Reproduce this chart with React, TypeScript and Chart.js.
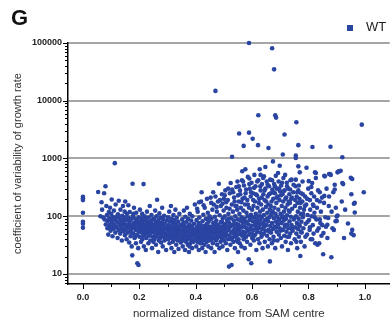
import React, { useEffect, useRef } from 'react';
import { Chart, registerables } from 'chart.js';

Chart.register(...registerables);

const panelLetter = 'G';
const seriesLabel = 'WT';
const xTitle = 'normalized distance from SAM centre';
const yTitle = 'coefficient of variability of growth rate';

const xMajorTicks = [0, 0.2, 0.4, 0.6, 0.8, 1.0];
const xMinorTicks = [0.1, 0.3, 0.5, 0.7, 0.9];
const yMajorTicks = [10, 100, 1000, 10000, 100000];
const yMinorTicks = [7, 8, 9, 20, 30, 40, 50, 60, 70, 80, 90, 200, 300, 400, 500, 600, 700, 800, 900,
  2000, 3000, 4000, 5000, 6000, 7000, 8000, 9000, 20000, 30000, 40000, 50000, 60000, 70000, 80000, 90000];

// [normalized distance, coefficient of variability]
const centrePoints: number[][] = [[0,217],[0,205],[0,190],[0,115],[0,80],[0,74],[0,63]];

const band05: number[][] = [[0.054,263],[0.062,100],[0.066,175],[0.068,130],[0.072,95],[0.075,250],[0.077,88],[0.08,330],[0.081,72],[0.083,150],[0.085,105],[0.087,62],[0.088,82],[0.09,48],[0.092,118],[0.093,92],[0.095,70],[0.096,140],[0.098,56],[0.099,86],[0.1,110],[0.1,65]];

const band10: number[][] = [[0.102,195],[0.104,78],[0.105,45],[0.106,98],[0.108,60],[0.11,125],[0.111,72],[0.113,830],[0.113,88],[0.115,52],[0.116,160],[0.118,95],[0.12,66],[0.121,80],[0.123,42],[0.124,108],[0.126,58],[0.127,185],[0.129,75],[0.13,92],[0.132,50],[0.133,130],[0.135,68],[0.136,84],[0.138,38],[0.139,102],[0.141,61],[0.142,150],[0.144,77],[0.145,55],[0.147,90],[0.148,120],[0.149,47],[0.15,70],[0.15,180]];

const band15: number[][] = [[0.152,85],[0.153,60],[0.155,40],[0.156,110],[0.157,72],[0.159,52],[0.16,95],[0.161,155],[0.162,64],[0.164,35],[0.165,80],[0.166,118],[0.168,56],[0.169,45],[0.17,88],[0.171,70],[0.173,30],[0.176,365],[0.175,21],[0.176,62],[0.177,100],[0.178,50],[0.18,76],[0.181,140],[0.183,42],[0.184,66],[0.185,90],[0.187,58],[0.188,34],[0.189,115],[0.19,74],[0.192,48],[0.193,15.3],[0.194,82],[0.195,62],[0.196,28],[0.197,14.3],[0.198,96],[0.199,54],[0.2,70]];

const band20: number[][] = [[0.201,44],[0.202,130],[0.203,80],[0.204,60],[0.206,36],[0.207,92],[0.208,68],[0.209,52],[0.21,110],[0.211,40],[0.212,75],[0.213,58],[0.215,360],[0.215,86],[0.216,30],[0.217,64],[0.218,48],[0.219,100],[0.22,72],[0.222,55],[0.223,26],[0.224,84],[0.225,42],[0.226,66],[0.227,120],[0.228,50],[0.229,78],[0.23,60],[0.232,34],[0.233,95],[0.234,70],[0.235,46],[0.236,56],[0.237,150],[0.238,82],[0.239,38],[0.24,64],[0.242,52],[0.243,105],[0.244,74],[0.245,28],[0.246,58],[0.247,88],[0.248,44],[0.249,68]];

const band25: number[][] = [[0.251,54],[0.252,90],[0.253,40],[0.254,70],[0.255,62],[0.256,125],[0.257,48],[0.258,80],[0.259,32],[0.26,58],[0.261,100],[0.262,44],[0.263,193],[0.264,66],[0.265,52],[0.266,75],[0.267,24],[0.268,86],[0.269,38],[0.27,60],[0.271,112],[0.272,50],[0.273,72],[0.274,42],[0.275,56],[0.276,94],[0.277,35],[0.278,64],[0.279,46],[0.28,78],[0.281,140],[0.282,54],[0.283,30],[0.284,68],[0.285,88],[0.286,44],[0.287,58],[0.288,102],[0.289,38],[0.29,74],[0.292,50],[0.294,62],[0.295,26],[0.297,84],[0.299,46]];

const band30: number[][] = [[0.301,56],[0.302,96],[0.303,40],[0.304,70],[0.305,48],[0.306,120],[0.307,34],[0.308,60],[0.309,82],[0.31,44],[0.311,52],[0.312,150],[0.313,66],[0.314,28],[0.315,90],[0.316,42],[0.317,58],[0.318,76],[0.319,36],[0.32,64],[0.321,105],[0.322,48],[0.323,54],[0.324,24],[0.325,86],[0.326,40],[0.327,62],[0.328,130],[0.329,46],[0.33,72],[0.331,32],[0.332,56],[0.333,94],[0.334,44],[0.335,66],[0.336,38],[0.337,50],[0.338,80],[0.339,27],[0.34,60],[0.342,110],[0.344,46],[0.346,70],[0.347,35],[0.349,54]];

const band35: number[][] = [[0.351,42],[0.352,88],[0.353,62],[0.354,30],[0.355,50],[0.356,76],[0.357,38],[0.358,125],[0.359,56],[0.36,44],[0.361,68],[0.362,26],[0.363,98],[0.364,48],[0.365,60],[0.366,36],[0.367,80],[0.368,52],[0.369,140],[0.37,40],[0.371,64],[0.372,32],[0.373,90],[0.374,46],[0.375,58],[0.376,24],[0.377,72],[0.378,42],[0.379,110],[0.38,54],[0.381,34],[0.382,66],[0.383,48],[0.384,84],[0.385,38],[0.386,56],[0.387,28],[0.388,100],[0.389,44],[0.39,62],[0.392,36],[0.394,74],[0.395,50],[0.397,160],[0.399,40]];

const band40: number[][] = [[0.401,58],[0.402,30],[0.403,86],[0.404,46],[0.405,66],[0.406,36],[0.407,120],[0.408,52],[0.409,42],[0.41,76],[0.411,26],[0.412,60],[0.413,95],[0.414,40],[0.415,54],[0.416,34],[0.417,70],[0.418,48],[0.419,180],[0.42,44],[0.421,260],[0.422,62],[0.423,28],[0.424,82],[0.425,50],[0.426,38],[0.427,106],[0.428,56],[0.429,42],[0.43,68],[0.431,32],[0.432,140],[0.433,48],[0.434,60],[0.435,24],[0.436,90],[0.437,44],[0.438,54],[0.439,36],[0.44,74],[0.441,64],[0.442,40],[0.443,115],[0.444,50],[0.445,30],[0.446,80],[0.447,46],[0.448,58],[0.449,100],[0.45,38]];

const band45: number[][] = [[0.451,66],[0.452,44],[0.453,210],[0.454,54],[0.455,28],[0.456,90],[0.457,40],[0.458,62],[0.459,130],[0.46,48],[0.461,34],[0.462,76],[0.463,56],[0.464,160],[0.465,42],[0.466,70],[0.467,24],[0.468,98],[0.469,52],[0.47,220],[0.47,14800],[0.471,60],[0.472,38],[0.473,84],[0.474,46],[0.475,120],[0.476,32],[0.477,66],[0.478,54],[0.479,180],[0.48,44],[0.481,72],[0.482,365],[0.483,58],[0.484,28],[0.485,104],[0.486,48],[0.487,64],[0.488,36],[0.489,150],[0.49,80],[0.491,52],[0.492,42],[0.493,240],[0.494,60],[0.495,30],[0.496,92],[0.497,46],[0.498,70],[0.499,125],[0.5,56],[0.5,38],[0.5,200]];

const band50: number[][] = [[0.502,62],[0.503,100],[0.504,44],[0.505,280],[0.506,74],[0.507,34],[0.508,54],[0.509,140],[0.51,48],[0.511,86],[0.512,26],[0.513,64],[0.514,190],[0.515,40],[0.516,110],[0.517,58],[0.518,13.4],[0.519,76],[0.52,46],[0.521,250],[0.522,66],[0.523,32],[0.524,375],[0.525,92],[0.526,52],[0.527,14.3],[0.528,160],[0.529,290],[0.529,1070],[0.53,42],[0.531,70],[0.532,120],[0.533,56],[0.534,36],[0.535,84],[0.536,210],[0.537,48],[0.538,62],[0.539,28],[0.54,100],[0.541,150],[0.542,44],[0.543,74],[0.544,320],[0.545,54],[0.546,38],[0.547,130],[0.548,400],[0.548,66],[0.549,88],[0.55,48],[0.55,230],[0.55,24]];

const band55: number[][] = [[0.551,72],[0.552,40],[0.553,180],[0.554,2700],[0.554,58],[0.555,110],[0.556,34],[0.557,280],[0.558,84],[0.559,50],[0.56,140],[0.561,64],[0.562,30],[0.563,96],[0.564,420],[0.565,600],[0.565,46],[0.566,200],[0.567,76],[0.568,54],[0.569,125],[0.57,1650],[0.57,40],[0.571,340],[0.572,66],[0.573,90],[0.574,28],[0.575,160],[0.576,650],[0.576,52],[0.577,250],[0.578,80],[0.579,44],[0.58,115],[0.581,62],[0.582,36],[0.583,190],[0.584,100],[0.585,480],[0.586,56],[0.587,72],[0.588,18],[0.589,2800],[0.589,100000],[0.589,140],[0.59,450],[0.59,48],[0.591,86],[0.592,300],[0.593,60],[0.594,32],[0.595,220],[0.596,106],[0.597,15.3],[0.597,68],[0.598,380],[0.599,50],[0.6,130],[0.6,42]];

const band60: number[][] = [[0.602,2200],[0.602,82],[0.603,250],[0.604,58],[0.605,150],[0.606,38],[0.607,96],[0.608,520],[0.609,70],[0.61,180],[0.611,48],[0.612,330],[0.613,110],[0.614,62],[0.615,26],[0.616,88],[0.617,230],[0.618,54],[0.619,140],[0.62,74],[0.621,1700],[0.621,40],[0.622,5600],[0.622,420],[0.623,100],[0.624,64],[0.625,200],[0.626,34],[0.627,650],[0.627,84],[0.628,120],[0.629,52],[0.63,520],[0.63,280],[0.631,72],[0.632,160],[0.633,44],[0.634,94],[0.635,360],[0.636,60],[0.637,28],[0.638,130],[0.639,78],[0.64,240],[0.641,50],[0.642,490],[0.642,105],[0.643,66],[0.644,190],[0.645,36],[0.646,86],[0.647,710],[0.647,300],[0.648,56],[0.649,145]];

const band65: number[][] = [[0.651,70],[0.652,400],[0.653,46],[0.654,115],[0.655,220],[0.656,30],[0.657,82],[0.658,1520],[0.658,160],[0.659,58],[0.66,330],[0.661,96],[0.662,40],[0.663,16.5],[0.663,130],[0.664,430],[0.665,68],[0.666,250],[0.667,52],[0.668,105],[0.669,180],[0.67,34],[0.671,81000],[0.671,76],[0.672,290],[0.673,120],[0.674,890],[0.674,60],[0.675,200],[0.676,44],[0.677,92],[0.678,35000],[0.678,360],[0.679,140],[0.68,66],[0.681,250],[0.682,5600],[0.682,28],[0.683,110],[0.684,500],[0.685,5100],[0.685,80],[0.686,170],[0.687,54],[0.688,300],[0.689,98],[0.69,38],[0.691,220],[0.692,72],[0.693,130],[0.694,400],[0.695,48],[0.696,88],[0.697,190],[0.698,750],[0.698,62],[0.699,270]];

const band70: number[][] = [[0.701,110],[0.702,42],[0.703,340],[0.704,76],[0.705,150],[0.706,30],[0.707,96],[0.708,240],[0.709,1170],[0.709,58],[0.71,180],[0.711,460],[0.712,84],[0.713,120],[0.714,46],[0.715,2600],[0.715,280],[0.716,66],[0.717,520],[0.718,140],[0.719,36],[0.72,90],[0.721,210],[0.722,54],[0.723,380],[0.724,104],[0.725,72],[0.726,160],[0.727,26],[0.728,300],[0.729,62],[0.73,125],[0.731,44],[0.732,240],[0.733,82],[0.734,170],[0.735,50],[0.736,420],[0.737,98],[0.738,34],[0.739,200],[0.74,430],[0.74,70],[0.742,135],[0.744,56],[0.746,260],[0.748,88]];

const band75: number[][] = [[0.751,40],[0.752,150],[0.753,64],[0.754,330],[0.755,1120],[0.755,1020],[0.755,430],[0.756,100],[0.757,4250],[0.757,50],[0.758,220],[0.759,76],[0.76,28],[0.761,170],[0.762,120],[0.763,60],[0.764,1700],[0.764,730],[0.764,280],[0.765,90],[0.766,44],[0.768,200],[0.769,575],[0.769,68],[0.77,140],[0.771,20.5],[0.772,110],[0.773,36],[0.774,250],[0.775,80],[0.776,52],[0.778,180],[0.779,400],[0.78,96],[0.782,62],[0.784,130],[0.786,30],[0.788,220],[0.79,74],[0.792,160],[0.793,690],[0.795,48],[0.797,105],[0.799,300]];

const band80: number[][] = [[0.801,405],[0.802,86],[0.804,58],[0.805,190],[0.806,130],[0.808,40],[0.81,250],[0.811,100],[0.813,375],[0.814,1580],[0.815,70],[0.816,160],[0.818,50],[0.82,220],[0.821,115],[0.823,575],[0.824,34],[0.826,560],[0.826,460],[0.828,88],[0.83,140],[0.832,32],[0.834,280],[0.836,62],[0.838,34],[0.84,180],[0.842,76],[0.844,120],[0.846,46],[0.848,210]];

const band85: number[][] = [[0.852,22],[0.853,51],[0.855,170],[0.856,500],[0.856,225],[0.858,490],[0.86,96],[0.862,66],[0.864,300],[0.867,42],[0.867,71],[0.87,93],[0.872,150],[0.873,540],[0.873,220],[0.876,540],[0.878,1600],[0.879,520],[0.881,19.5],[0.882,120],[0.885,62],[0.888,260],[0.89,58],[0.893,350],[0.893,290],[0.896,82],[0.897,140],[0.9,83],[0.9,99]];

const band90: number[][] = [[0.903,103],[0.903,575],[0.905,590],[0.908,600],[0.914,610],[0.918,180],[0.92,1050],[0.92,375],[0.923,360],[0.926,42],[0.93,130],[0.94,75],[0.95,465],[0.952,240],[0.952,50],[0.955,440],[0.955,58],[0.96,47],[0.961,164],[0.964,116],[0.964,170],[0.989,3850],[0.996,260]];

const upperCloud: number[][] = [[0.405,135],[0.412,175],[0.428,155],[0.44,200],[0.455,170],[0.462,260],[0.474,145],[0.486,190],[0.495,165],[0.503,230],[0.508,175],[0.515,300],[0.52,135],[0.533,260],[0.538,180],[0.545,150],[0.553,330],[0.558,240],[0.562,175],[0.568,400],[0.573,210],[0.579,290],[0.585,160],[0.59,360],[0.596,260],[0.604,190],[0.607,310],[0.613,240],[0.618,400],[0.624,170],[0.629,330],[0.634,210],[0.639,460],[0.644,280],[0.65,180],[0.655,350],[0.66,240],[0.666,150],[0.671,420],[0.676,260],[0.681,330],[0.687,210],[0.692,560],[0.696,300],[0.702,230],[0.706,380],[0.712,270],[0.718,200],[0.724,330],[0.73,180],[0.735,290],[0.741,210],[0.747,350],[0.753,190],[0.76,260],[0.766,340],[0.772,170],[0.78,240],[0.787,150],[0.795,200],[0.81,320],[0.818,150],[0.83,190],[0.84,260]];

const coreExtra: number[][] = [[0.107,88],[0.114,64],[0.122,100],[0.131,58],[0.137,76],[0.146,96],[0.154,68],[0.163,88],[0.172,52],[0.179,110],[0.186,44],[0.191,86],[0.205,76],[0.214,46],[0.221,92],[0.231,62],[0.241,80],[0.25,36],[0.258,68],[0.266,58],[0.276,48],[0.285,74],[0.293,40],[0.3,66],[0.31,60],[0.318,50],[0.327,78],[0.336,56],[0.345,40],[0.353,72],[0.362,46],[0.37,58],[0.378,30],[0.386,68],[0.394,54],[0.403,44],[0.412,70],[0.42,34],[0.428,64],[0.437,52],[0.445,88],[0.453,40],[0.461,58],[0.469,74],[0.477,42],[0.485,62],[0.493,80],[0.501,48],[0.509,66],[0.517,90],[0.525,40],[0.533,72],[0.541,56],[0.549,36],[0.557,66],[0.565,88],[0.573,46],[0.581,76],[0.589,58],[0.597,96],[0.605,44],[0.613,80],[0.621,62],[0.629,100],[0.637,48],[0.645,72],[0.653,90],[0.661,54],[0.669,112],[0.677,38],[0.685,64],[0.693,84],[0.701,56],[0.709,100],[0.717,70],[0.725,44],[0.733,120],[0.741,60],[0.749,92],[0.757,36],[0.765,72],[0.773,54],[0.781,110],[0.789,44],[0.797,80],[0.805,64],[0.813,40],[0.822,96],[0.831,56],[0.84,88],[0.849,70]];

const allPoints = [centrePoints, band05, band10, band15, band20, band25, band30, band35, band40, band45,
  band50, band55, band60, band65, band70, band75, band80, band85, band90, upperCloud, coreExtra].flat();

const BLUE = '#2a44a2';
const FONT = 'Liberation Sans, Arial, sans-serif';

const axisTicksPlugin = {
  id: 'axisTicks',
  afterDraw(chart: any) {
    const { ctx, scales, chartArea } = chart;
    const xs = scales.x;
    const ys = scales.y;
    ctx.save();
    ctx.strokeStyle = '#000';
    ctx.lineWidth = 1;
    ctx.beginPath();
    for (const v of yMajorTicks) {
      const y = Math.round(ys.getPixelForValue(v)) + 0.5;
      ctx.moveTo(chartArea.left - 5, y);
      ctx.lineTo(chartArea.left, y);
    }
    for (const v of yMinorTicks) {
      const y = Math.round(ys.getPixelForValue(v)) + 0.5;
      ctx.moveTo(chartArea.left - 3, y);
      ctx.lineTo(chartArea.left, y);
    }
    for (const v of xMajorTicks) {
      const x = Math.round(xs.getPixelForValue(v)) + 0.5;
      ctx.moveTo(x, chartArea.bottom);
      ctx.lineTo(x, chartArea.bottom + 5);
    }
    for (const v of xMinorTicks) {
      const x = Math.round(xs.getPixelForValue(v)) + 0.5;
      ctx.moveTo(x, chartArea.bottom);
      ctx.lineTo(x, chartArea.bottom + 3);
    }
    ctx.stroke();
    ctx.restore();
  },
};

export default function App() {
  const canvasRef = useRef<HTMLCanvasElement | null>(null);

  useEffect(() => {
    if (!canvasRef.current) return;
    const chart = new Chart(canvasRef.current, {
      type: 'scatter',
      data: {
        datasets: [
          {
            label: seriesLabel,
            data: allPoints.map(([x, y]) => ({ x, y })),
            backgroundColor: BLUE,
            borderColor: BLUE,
            borderWidth: 0,
            pointRadius: 2.3,
            pointHoverRadius: 2.3,
            clip: 4,
          },
        ],
      },
      options: {
        responsive: false,
        animation: false,
        devicePixelRatio: 1,
        layout: { padding: { top: 43, right: 0, left: 0, bottom: 0 } },
        plugins: {
          legend: { display: false },
          tooltip: { enabled: false },
        },
        scales: {
          x: {
            type: 'linear',
            min: -0.053,
            max: 1.088,
            afterFit: (s: any) => { s.height = 41; },
            afterBuildTicks: (s: any) => { s.ticks = xMajorTicks.map((v) => ({ value: v })); },
            grid: { display: false, drawTicks: false },
            border: { display: true, color: '#000', width: 1.5 },
            ticks: {
              padding: 8,
              color: '#222',
              font: { family: FONT, size: 9, weight: 'bold' },
              callback: (v: any) => Number(v).toFixed(1),
              maxRotation: 0,
              autoSkip: false,
            },
            title: {
              display: true,
              text: xTitle,
              color: '#333',
              font: { family: FONT, size: 11.5 },
              padding: { top: 0, bottom: 4.5 },
            },
          },
          y: {
            type: 'logarithmic',
            min: 6.7,
            max: 100000,
            afterFit: (s: any) => { s.width = 68; },
            afterBuildTicks: (s: any) => { s.ticks = yMajorTicks.map((v) => ({ value: v })); },
            grid: { display: true, drawTicks: false, color: '#a6a6a6', lineWidth: 2 },
            border: { display: true, color: '#000', width: 1.5 },
            ticks: {
              padding: 6,
              color: '#222',
              font: { family: FONT, size: 9, weight: 'bold' },
              callback: (v: any) => String(v),
              autoSkip: false,
            },
            title: {
              display: true,
              text: yTitle,
              color: '#333',
              font: { family: FONT, size: 11 },
              padding: { top: 11, bottom: 0 },
            },
          },
        },
      },
      plugins: [axisTicksPlugin],
    } as any);
    return () => chart.destroy();
  }, []);

  return (
    <div style={{ position: 'absolute', left: 0, top: 0, width: 392, height: 325, background: '#fff', overflow: 'hidden' }}>
      <canvas ref={canvasRef} width={392} height={325} style={{ width: 392, height: 325, display: 'block' }} />
      <span style={{ position: 'absolute', left: 11, top: 5, fontFamily: FONT, fontWeight: 'bold', fontSize: 22, lineHeight: '26px', color: '#111' }}>
        {panelLetter}
      </span>
      <span style={{ position: 'absolute', left: 347, top: 25, width: 6, height: 6, background: BLUE }} />
      <span style={{ position: 'absolute', left: 366, top: 19, fontFamily: FONT, fontSize: 13, lineHeight: '16px', color: '#222' }}>
        {seriesLabel}
      </span>
    </div>
  );
}
